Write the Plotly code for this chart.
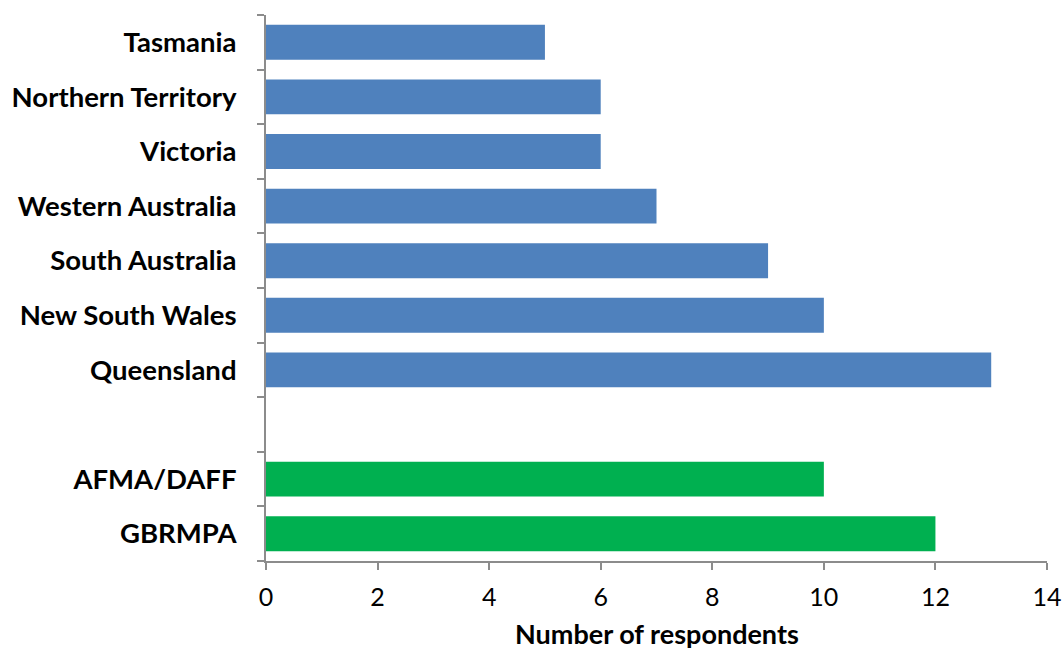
import plotly.graph_objects as go

# Respondents by jurisdiction (states/territories) and by agency
states = ["Queensland", "New South Wales", "South Australia", "Western Australia",
          "Victoria", "Northern Territory", "Tasmania"]
state_counts = [13, 10, 9, 7, 6, 6, 5]

agencies = ["GBRMPA", "AFMA/DAFF"]
agency_counts = [12, 10]

spacer = " "  # empty row separating agencies from states
category_order = agencies + [spacer] + states

x_ticks = [0, 2, 4, 6, 8, 10, 12, 14]
x_title = "Number of respondents"

BLUE = "#4F81BD"
GREEN = "#00B050"
AXIS_GREY = "#8C8C8C"
FONT = "Lato, 'Open Sans', sans-serif"

fig = go.Figure()
fig.add_trace(go.Bar(
    y=states, x=state_counts, orientation="h",
    marker=dict(color=BLUE, line=dict(width=0)),
    width=0.64, showlegend=False,
))
fig.add_trace(go.Bar(
    y=agencies, x=agency_counts, orientation="h",
    marker=dict(color=GREEN, line=dict(width=0)),
    width=0.64, showlegend=False,
))

fig.update_layout(
    width=1064, height=650,
    margin=dict(l=266, r=17, t=15, b=89),
    paper_bgcolor="white", plot_bgcolor="white",
    font=dict(family=FONT, color="black"),
    barmode="overlay",
)

fig.update_yaxes(
    type="category",
    categoryorder="array", categoryarray=category_order,
    range=[-0.5, len(category_order) - 0.5],
    automargin=False,
    showline=True, linecolor=AXIS_GREY, linewidth=2,
    ticks="outside", ticklen=7, tickwidth=1.5, tickcolor=AXIS_GREY,
    tickson="boundaries",
    ticklabelstandoff=22,
    tickfont=dict(family=FONT, size=27.5, color="black", weight="bold"),
    showgrid=False, zeroline=False,
)

fig.update_xaxes(
    range=[0, 14],
    tickvals=x_ticks,
    ticktext=[str(v) for v in x_ticks],
    automargin=False,
    showline=True, linecolor=AXIS_GREY, linewidth=2,
    ticks="outside", ticklen=7, tickwidth=1.5, tickcolor=AXIS_GREY,
    ticklabelstandoff=6,
    tickfont=dict(family=FONT, size=25, color="black"),
    showgrid=False, zeroline=False,
)

# Axis title placed below the tick labels
fig.add_annotation(
    text=x_title, xref="paper", yref="paper",
    x=0.5, y=-72 / 546, xanchor="center", yanchor="middle",
    showarrow=False,
    font=dict(family=FONT, size=27, color="black", weight="bold"),
)

fig.write_html("out.html")
